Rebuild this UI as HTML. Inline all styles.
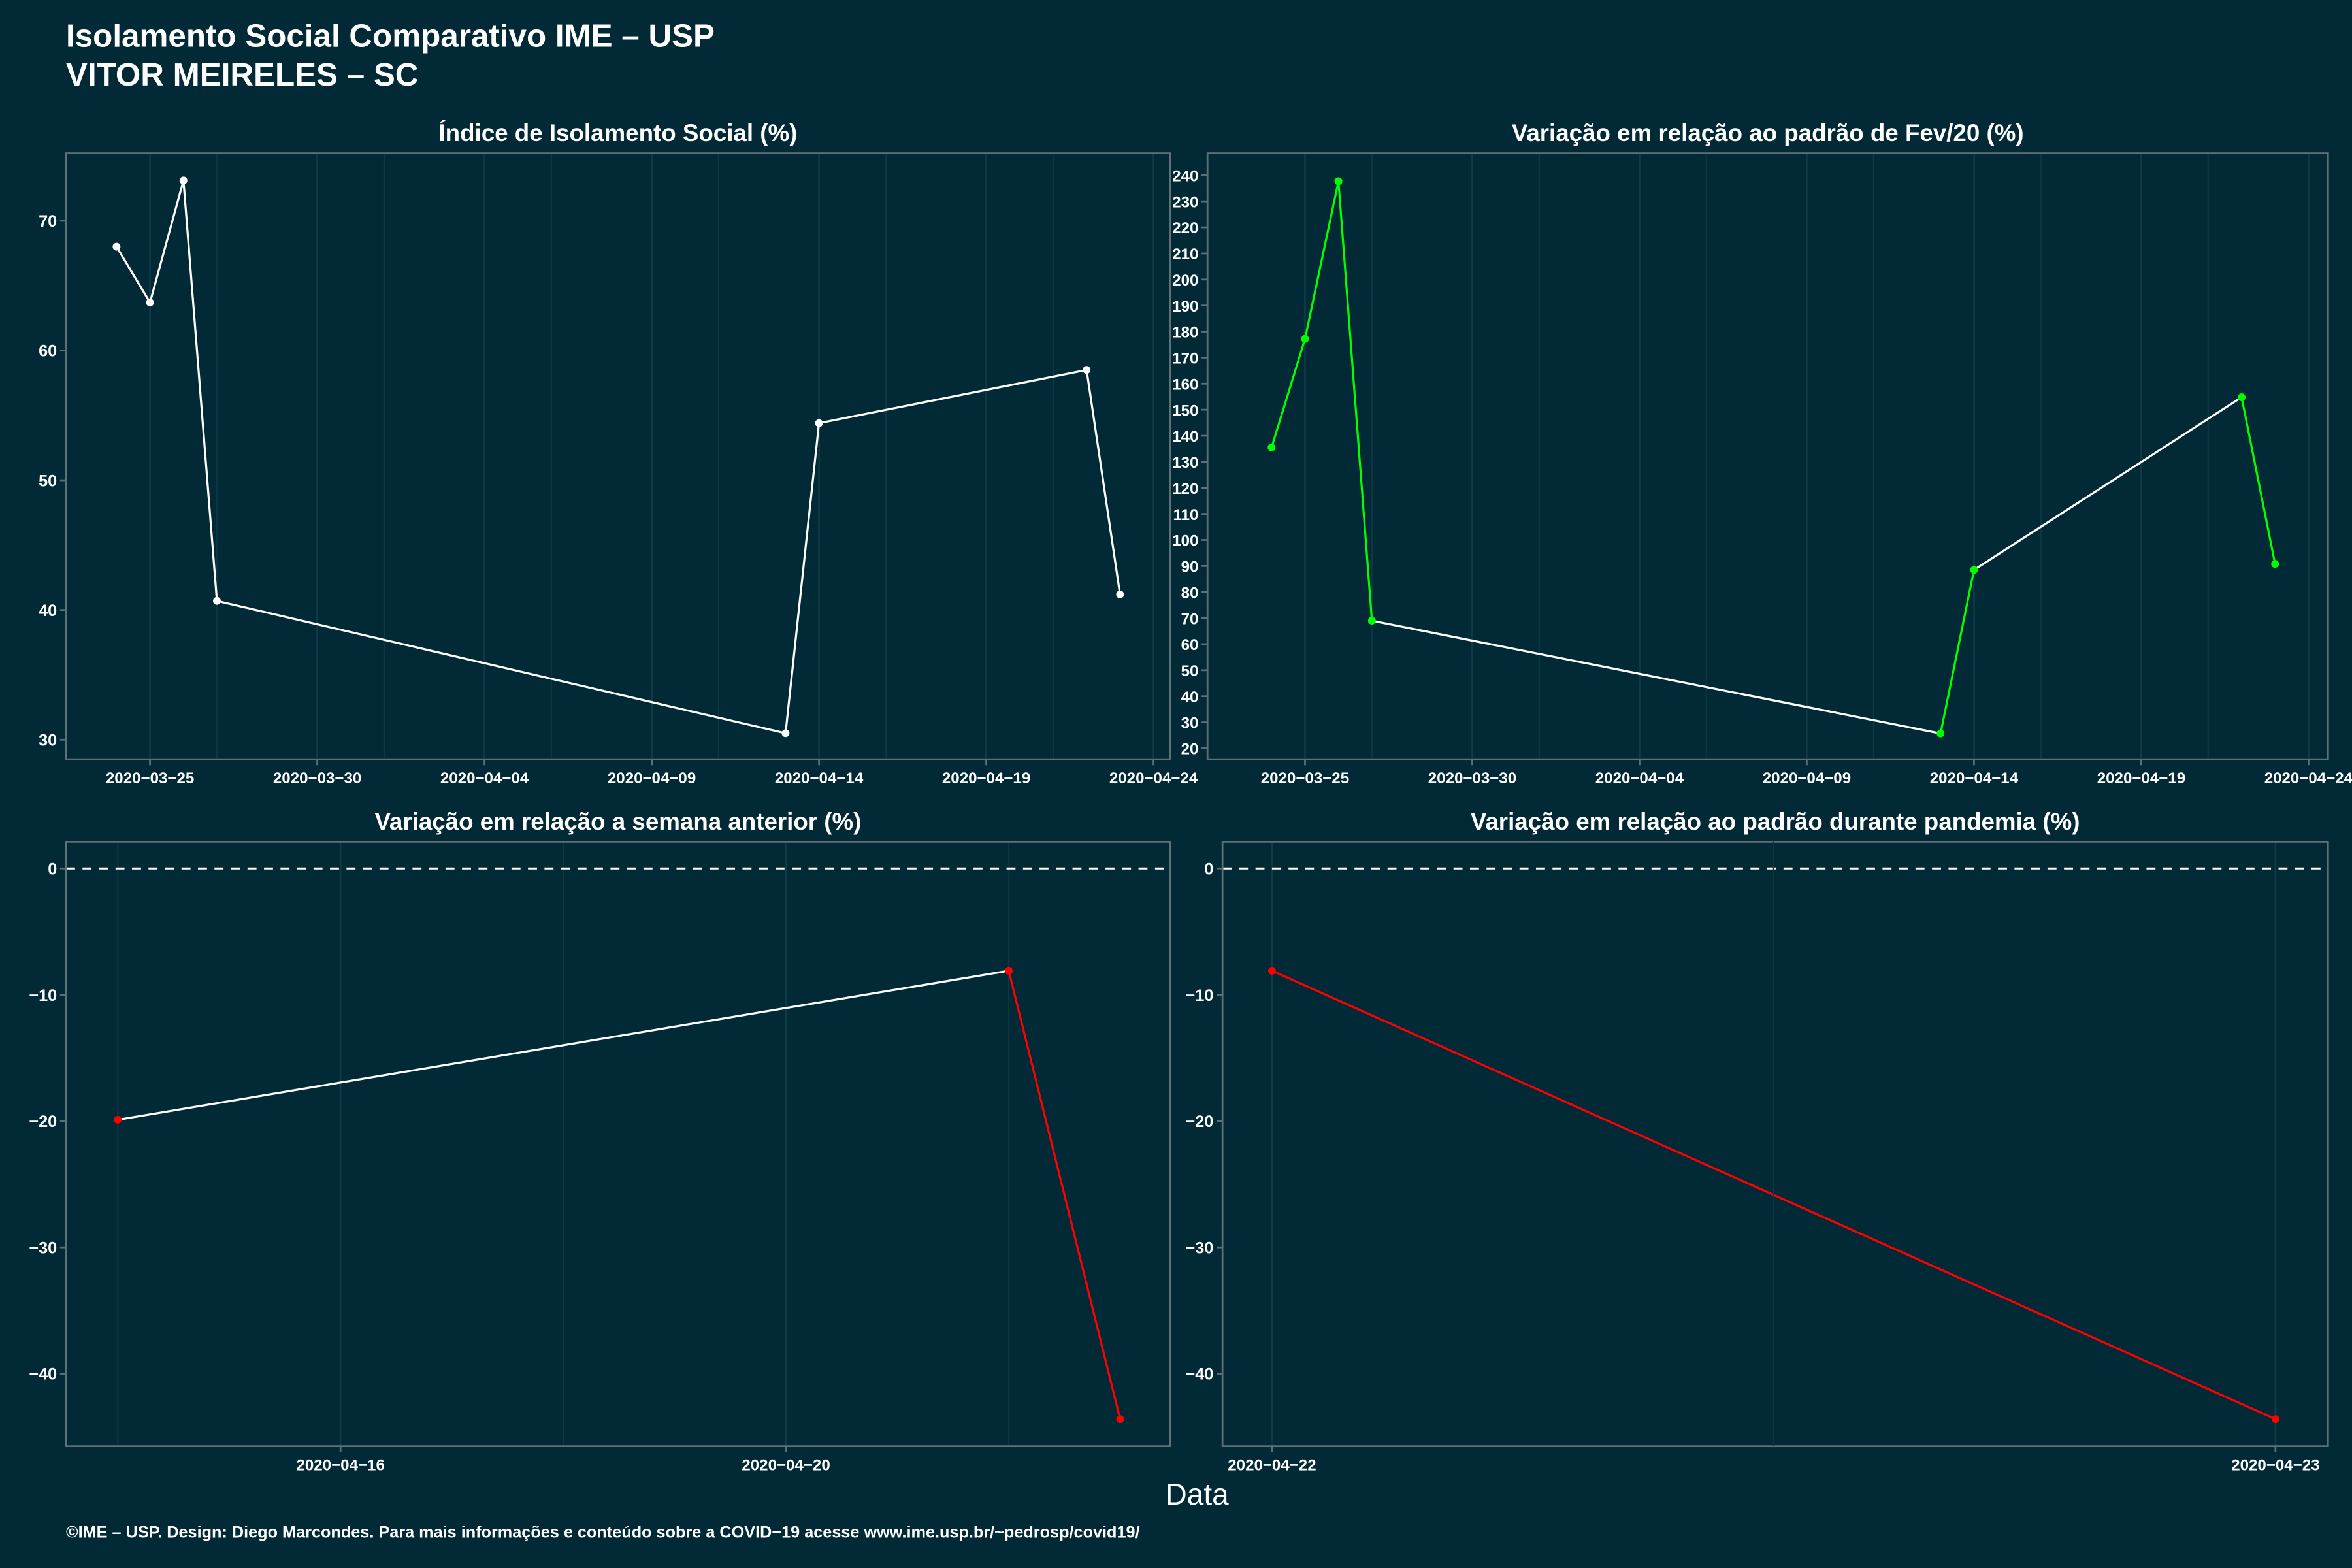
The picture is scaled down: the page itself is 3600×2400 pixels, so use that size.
<!DOCTYPE html>
<html><head><meta charset="utf-8"><style>
html,body{margin:0;padding:0;background:#012a36;}
svg{display:block;font-family:"Liberation Sans",Arial,sans-serif;}
</style></head><body>
<svg id="chart" width="3600" height="2400" viewBox="0 0 1568 1045" xmlns="http://www.w3.org/2000/svg">
<rect x="0" y="0" width="1568" height="1045" fill="#012a36"/>
<text x="44" y="31" font-size="21.5" font-weight="bold" fill="#fff">Isolamento Social Comparativo IME – USP</text>
<text x="44" y="57" font-size="21.5" font-weight="bold" fill="#fff">VITOR MEIRELES – SC</text>
<text x="798" y="1003" font-size="20" fill="#fff" text-anchor="middle">Data</text>
<text x="44" y="1025" font-size="11" font-weight="bold" fill="#fff">©IME – USP. Design: Diego Marcondes. Para mais informações e conteúdo sobre a COVID−19 acesse www.ime.usp.br/~pedrosp/covid19/</text>
<g id="plots"></g>
</svg>
<script>
// Panel 1: Índice de Isolamento Social
const p1Dates = ["2020-03-24","2020-03-25","2020-03-26","2020-03-27","2020-04-13","2020-04-14","2020-04-22","2020-04-23"];
const p1Values = [68.0, 63.7, 73.1, 40.7, 30.5, 54.4, 58.5, 41.2];
const p1YTicks = [30, 40, 50, 60, 70];
const p1XTicks = ["2020-03-25","2020-03-30","2020-04-04","2020-04-09","2020-04-14","2020-04-19","2020-04-24"];
// Panel 2: Variação em relação ao padrão de Fev/20
const p2Dates = ["2020-03-24","2020-03-25","2020-03-26","2020-03-27","2020-04-13","2020-04-14","2020-04-22","2020-04-23"];
const p2Values = [135.5, 177.2, 237.7, 69.0, 25.7, 88.5, 154.8, 90.8];
const p2YTicks = [20,30,40,50,60,70,80,90,100,110,120,130,140,150,160,170,180,190,200,210,220,230,240];
const p2XTicks = ["2020-03-25","2020-03-30","2020-04-04","2020-04-09","2020-04-14","2020-04-19","2020-04-24"];
// Panel 3: Variação em relação a semana anterior
const p3Dates = ["2020-04-14","2020-04-22","2020-04-23"];
const p3Values = [-19.9, -8.1, -43.6];
const p3YTicks = [-40, -30, -20, -10, 0];
const p3XTicks = ["2020-04-16","2020-04-20"];
// Panel 4: Variação em relação ao padrão durante pandemia
const p4Dates = ["2020-04-22","2020-04-23"];
const p4Values = [-8.1, -43.6];
const p4YTicks = [-40, -30, -20, -10, 0];
const p4XTicks = ["2020-04-22","2020-04-23"];

const NS = "http://www.w3.org/2000/svg";
const root = document.getElementById("plots");
function mk(tag, attrs, parent){const e=document.createElementNS(NS,tag);for(const k in attrs)e.setAttribute(k,attrs[k]);(parent||root).appendChild(e);return e;}
function day(s){return Date.UTC(+s.slice(0,4),+s.slice(5,7)-1,+s.slice(8,10))/86400000;}

function panel(cfg){
  const g=mk("g",{});
  
  
  const L=cfg.box[0],T=cfg.box[1],R=cfg.box[2],B=cfg.box[3];
  const xs=d=>cfg.x0px+(day(d)-day(cfg.x0d))*cfg.pxPerDay;
  const ys=v=>cfg.y0px+(cfg.y0v-v)*cfg.pxPerUnit;
  const bg=mk("rect",{x:L,y:T,width:R-L,height:B-T,fill:"#012a36"},g);
  
  
  const t=mk("text",{x:(L+R)/2,y:T-8,"font-size":16,"font-weight":"bold",fill:"#fff","text-anchor":"middle"},g);
  t.textContent=cfg.title;
  
  
  // minor gridlines
  (cfg.minor||[]).forEach(d=>{const x=xs(d);if(x>L&&x<R){const l=mk("line",{x1:x,x2:x,y1:T,y2:B,stroke:"#0c3641","stroke-width":1},g);
    
    }});
  cfg.xticks.forEach(d=>{const x=xs(d);
    const l=mk("line",{x1:x,x2:x,y1:T,y2:B,stroke:"#0f3a46","stroke-width":1.2},g);
    
    
    const tk=mk("line",{x1:x,x2:x,y1:B,y2:B+4,stroke:"#5d7175","stroke-width":1.2},g);
    
    
    const lb=mk("text",{x:x,y:B+16,"font-size":10.5,"font-weight":"bold",fill:"#fff","text-anchor":"middle"},g);
    lb.textContent=d.replace(/-/g,"−");
    
    });
  cfg.yticks.forEach(v=>{const y=ys(v);
    const tk=mk("line",{x1:L-4,x2:L,y1:y,y2:y,stroke:"#5d7175","stroke-width":1.2},g);
    
    
    const lb=mk("text",{x:L-6,y:y+4,"font-size":cfg.yfs||11,"font-weight":"bold",fill:"#fff","text-anchor":"end"},g);
    lb.textContent=String(v).replace("-","−");
    
    });
  if(cfg.zero){const y=ys(0);const z=mk("line",{x1:L,x2:R,y1:y,y2:y,stroke:"#fff","stroke-width":1.3,"stroke-dasharray":"6,5"},g);
    
    }
  for(let i=1;i<cfg.dates.length;i++){
    const consec=(day(cfg.dates[i])-day(cfg.dates[i-1]))===1;
    const col=consec?cfg.color:"#fff";
    const s=mk("line",{x1:xs(cfg.dates[i-1]),y1:ys(cfg.values[i-1]),x2:xs(cfg.dates[i]),y2:ys(cfg.values[i]),stroke:col,"stroke-width":1.4},g);
    
    
  }
  cfg.dates.forEach((d,i)=>{const c=mk("circle",{cx:xs(d),cy:ys(cfg.values[i]),r:2.6,fill:cfg.color},g);
    
    });
  const br=mk("rect",{x:L,y:T,width:R-L,height:B-T,fill:"none",stroke:"#5d7175","stroke-width":1.2},g);
  
  
}
const minorTop=["2020-03-27","2020-04-01","2020-04-06","2020-04-11","2020-04-16","2020-04-21","2020-03-22"];
panel({name:"panel-isolation-index",title:"Índice de Isolamento Social (%)",box:[44,102,780,506],
  x0d:"2020-03-25",x0px:100,pxPerDay:22.3,y0v:70,y0px:147,pxPerUnit:8.65,
  dates:p1Dates,values:p1Values,yticks:p1YTicks,xticks:p1XTicks,color:"#fff",minor:minorTop.map(d=>d)});
panel({name:"panel-variation-feb",title:"Variação em relação ao padrão de Fev/20 (%)",box:[805,102,1552,506],
  x0d:"2020-03-25",x0px:870,pxPerDay:22.3,y0v:240,y0px:116.7,pxPerUnit:1.7365,yfs:10.5,
  dates:p2Dates,values:p2Values,yticks:p2YTicks,xticks:p2XTicks,color:"#00ff00",minor:minorTop});
panel({name:"panel-variation-previous-week",title:"Variação em relação a semana anterior (%)",box:[44,561,780,964],
  x0d:"2020-04-16",x0px:227,pxPerDay:74.25,y0v:0,y0px:578.8,pxPerUnit:8.42,
  dates:p3Dates,values:p3Values,yticks:p3YTicks,xticks:p3XTicks,color:"#ff0000",zero:true,minor:["2020-04-14","2020-04-18","2020-04-22"]});
panel({name:"panel-variation-pandemic",title:"Variação em relação ao padrão durante pandemia (%)",box:[815,561,1552,964],
  x0d:"2020-04-22",x0px:848,pxPerDay:669,y0v:0,y0px:578.8,pxPerUnit:8.42,
  dates:p4Dates,values:p4Values,yticks:p4YTicks,xticks:p4XTicks,color:"#ff0000",zero:true,minor:[]});
// minor grid for panel 4 midpoint
(function(){const l=mk("line",{x1:1182.5,x2:1182.5,y1:561,y2:964,stroke:"#0c3641","stroke-width":1});


root.insertBefore(l, root.lastChild);})();
</script>
</body></html>
